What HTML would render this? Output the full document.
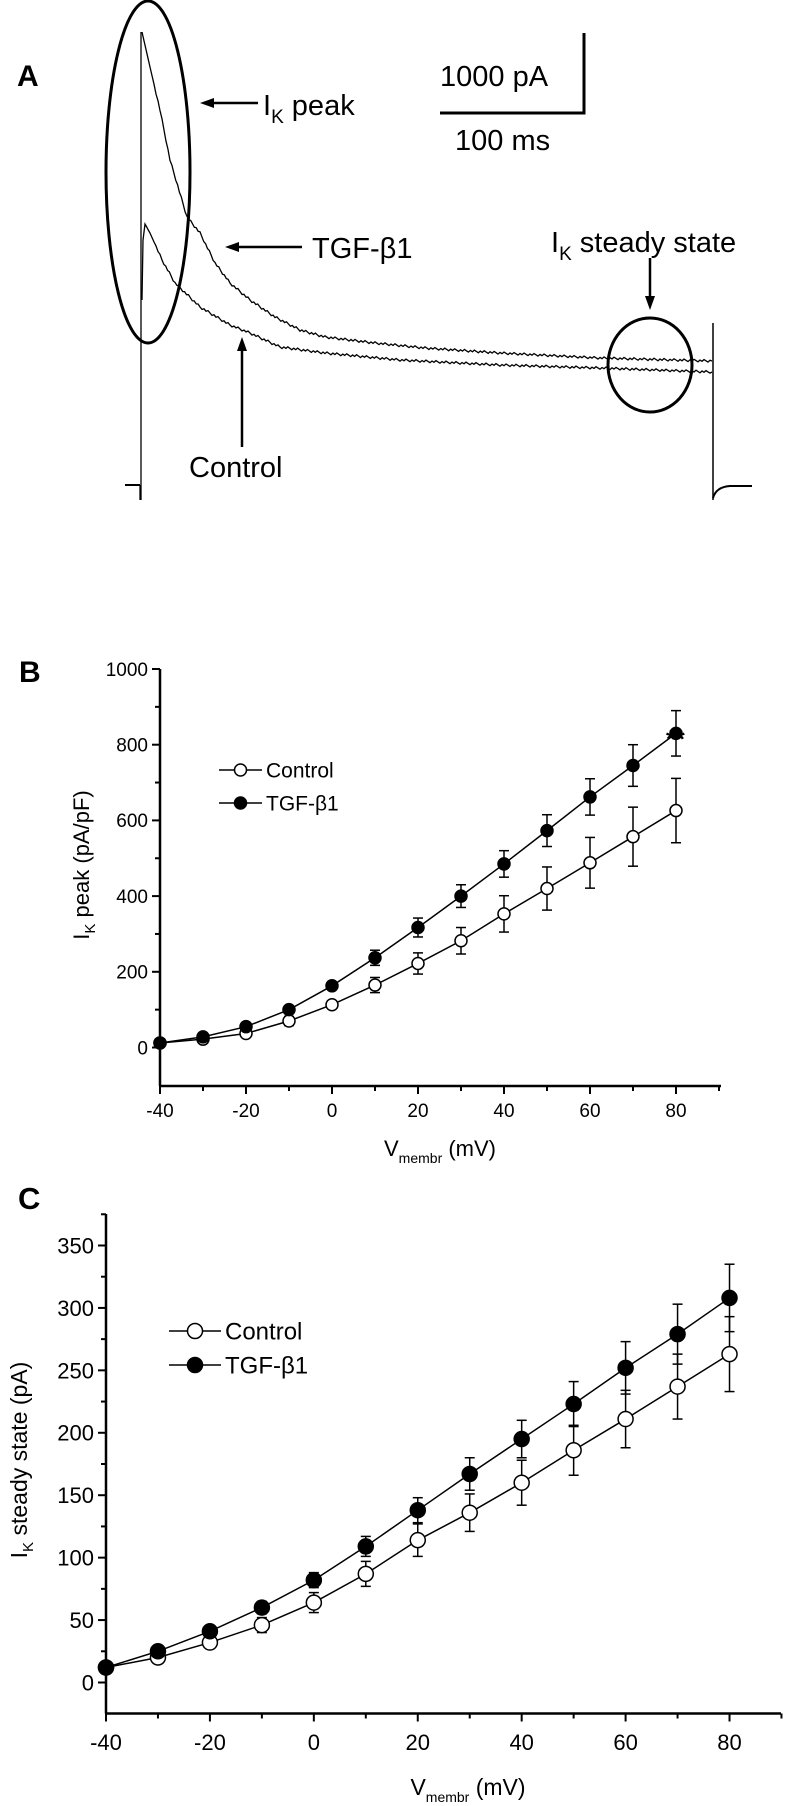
<!DOCTYPE html>
<html><head><meta charset="utf-8">
<style>
html,body{margin:0;padding:0;background:#fff;}
svg{display:block;font-family:"Liberation Sans",Arial,sans-serif;}
</style></head>
<body>
<svg id="fig" width="786" height="1806" viewBox="0 0 786 1806" xmlns="http://www.w3.org/2000/svg">
<!-- Panel A -->
<g id="panelA" fill="none" stroke="#000">
  <text x="17" y="86" font-size="30" font-weight="bold" fill="#000" stroke="none">A</text>
  <ellipse cx="148" cy="172" rx="42" ry="171" stroke-width="3"/>
  <ellipse cx="650" cy="365" rx="42" ry="47" stroke-width="3"/>
  <line x1="125" y1="485" x2="140" y2="485" stroke-width="2"/>
  <line x1="140" y1="485" x2="140" y2="500" stroke-width="1.3"/>
  <line x1="141" y1="32" x2="141" y2="500" stroke-width="1.3"/>
  <line x1="713" y1="323" x2="713" y2="500" stroke-width="1.5"/>
  <path d="M713,498 Q716,487 730,486 L752,486" stroke-width="2"/>
  <polyline id="traceTGF" stroke-width="1.3"/>
  <polyline id="traceCtl" stroke-width="1.3"/>
  <!-- scale bar -->
  <polyline points="440,113 584,113 584,33" stroke-width="3"/>
  <text x="440" y="86" font-size="29" fill="#000" stroke="none">1000 pA</text>
  <text x="455" y="150" font-size="29" fill="#000" stroke="none">100 ms</text>
  <!-- annotations -->
  <line x1="258" y1="103" x2="210" y2="103" stroke-width="2.5"/>
  <polygon points="200,103 214,98 214,108" fill="#000" stroke="none"/>
  <text x="263" y="115" font-size="29" fill="#000" stroke="none">I<tspan font-size="19" dy="8">K</tspan><tspan dy="-8"> peak</tspan></text>
  <line x1="302" y1="247" x2="235" y2="247" stroke-width="2.5"/>
  <polygon points="225,247 239,242 239,252" fill="#000" stroke="none"/>
  <text x="312" y="258" font-size="29" fill="#000" stroke="none">TGF-β1</text>
  <line x1="242" y1="447" x2="242" y2="348" stroke-width="2.5"/>
  <polygon points="242,337 237,351 247,351" fill="#000" stroke="none"/>
  <text x="189" y="477" font-size="29" fill="#000" stroke="none">Control</text>
  <line x1="650" y1="258" x2="650" y2="298" stroke-width="2.5"/>
  <polygon points="650,310 645,296 655,296" fill="#000" stroke="none"/>
  <text x="551" y="252" font-size="29" fill="#000" stroke="none">I<tspan font-size="19" dy="8">K</tspan><tspan dy="-8"> steady state</tspan></text>
</g>
<g id="panelB"></g>
<g id="panelC"></g>
</svg>
<script>
// ---- Panel A trace shape (pixel path of recorded traces)
const traceTGFpts = [[142,32],[150,67],[160,110],[170,160],[187,217],[200,233],[215,263],[230,283],[250,300],[275,317],[300,330],[325,337],[375,343],[425,348],[500,353],[600,358],[712,361]];
const traceCtlpts = [[142,300],[143,240],[145,224],[150,233],[162,260],[175,283],[200,307],[230,325],[250,333],[280,347],[325,353],[400,360],[500,365],[600,368],[712,372]];

// ---- Panel B data
const voltages = [-40,-30,-20,-10,0,10,20,30,40,50,60,70,80];
const peakControl = [12,22,37,70,113,165,222,282,353,420,488,557,626];
const peakControlErr = [6,8,10,12,10,20,28,35,48,57,67,78,85];
const peakTGF = [12,28,55,100,163,237,317,400,485,573,662,745,830];
const peakTGFErr = [5,6,8,10,10,20,25,30,35,42,48,55,60];
const peakYTicks = [0,200,400,600,800,1000];
const xTicks = [-40,-20,0,20,40,60,80];

// ---- Panel C data
const ssControl = [12,20,32,46,64,87,114,136,160,186,211,237,263];
const ssControlErr = [3,3,4,6,8,10,13,15,18,20,23,26,30];
const ssTGF = [12,25,41,60,82,109,138,167,195,223,252,279,308];
const ssTGFErr = [3,3,3,5,6,8,10,13,15,18,21,24,27];
const ssYTicks = [0,50,100,150,200,250,300,350];

const NS = "http://www.w3.org/2000/svg";
function mk(parent, tag, attrs){ const e=document.createElementNS(NS,tag); for(const k in attrs) e.setAttribute(k,attrs[k]); parent.appendChild(e); return e; }

function wiggle(pts, amp){
  const out=[]; let k=0;
  for(let i=0;i<pts.length-1;i++){
    const [x0,y0]=pts[i],[x1,y1]=pts[i+1];
    const n=Math.max(1,Math.round((x1-x0)/2));
    for(let j=0;j<n;j++){
      const t=j/n; const x=x0+(x1-x0)*t; let y=y0+(y1-y0)*t;
      if(x>155){ y += amp*(((k*7)%5)-2)/2; }
      k++; out.push(x.toFixed(1)+","+y.toFixed(1));
    }
  }
  const l=pts[pts.length-1]; out.push(l[0]+","+l[1]);
  return out.join(" ");
}
document.getElementById('traceTGF').setAttribute('points', wiggle(traceTGFpts,1.2));
document.getElementById('traceCtl').setAttribute('points', wiggle(traceCtlpts,1.2));

function drawPanel(g, o){
  const X=v=>o.x0+(v-o.xmin)*o.xs;
  const Y=v=>o.y0-(v-0)*o.ys;
  // axes
  let e=mk(g,'line',{x1:o.ax,y1:o.top,x2:o.ax,y2:o.bottom,stroke:'#000','stroke-width':2.5});
   
  e=mk(g,'line',{x1:o.ax,y1:o.bottom,x2:o.right,y2:o.bottom,stroke:'#000','stroke-width':2.5});
   
  // y ticks
  for(let v=o.yminTick; v<=o.ymaxTick; v+=o.yminor){
    const major = o.yTicks.indexOf(v)>=0;
    mk(g,'line',{x1:o.ax-(major?8:5),y1:Y(v),x2:o.ax,y2:Y(v),stroke:'#000','stroke-width':2});
  }
  o.yTicks.forEach(v=>{
    const t=mk(g,'text',{x:o.ax-12,y:Y(v)+o.fs*0.36,'font-size':o.fs,'text-anchor':'end'});
    t.textContent=v;
     
  });
  for(let v=-40; v<=90; v+=10){
    const major=xTicks.indexOf(v)>=0;
    mk(g,'line',{x1:X(v),y1:o.bottom,x2:X(v),y2:o.bottom+(major?8:5),stroke:'#000','stroke-width':2});
  }
  xTicks.forEach(v=>{
    const t=mk(g,'text',{x:X(v),y:o.xlabY,'font-size':o.fs,'text-anchor':'middle'});
    t.textContent=v;
     
  });
  // series
  const series=[[o.ctl,o.ctlErr,'#fff','control'],[o.tgf,o.tgfErr,'#000','tgf']];
  series.forEach(([vals,errs,fill,nm])=>{
    const pl=mk(g,'polyline',{points:voltages.map((v,i)=>X(v)+','+Y(vals[i])).join(' '),fill:'none',stroke:'#000','stroke-width':1.5});
     
  });
  series.forEach(([vals,errs,fill,nm])=>{
    voltages.forEach((v,i)=>{
      const x=X(v);
      mk(g,'line',{x1:x,y1:Y(vals[i]-errs[i]),x2:x,y2:Y(vals[i]+errs[i]),stroke:'#000','stroke-width':1.5});
      mk(g,'line',{x1:x-5,y1:Y(vals[i]+errs[i]),x2:x+5,y2:Y(vals[i]+errs[i]),stroke:'#000','stroke-width':1.5});
      mk(g,'line',{x1:x-5,y1:Y(vals[i]-errs[i]),x2:x+5,y2:Y(vals[i]-errs[i]),stroke:'#000','stroke-width':1.5});
      const c=mk(g,'circle',{cx:x,cy:Y(vals[i]),r:o.r,fill:fill,stroke:'#000','stroke-width':1.5});
       
    });
  });
  // legend
  [['Control','#fff',o.legY1],['TGF-β1','#000',o.legY2]].forEach(([lab,fill,y])=>{
    mk(g,'line',{x1:o.legX,y1:y,x2:o.legX+o.legW,y2:y,stroke:'#000','stroke-width':1.5});
    mk(g,'circle',{cx:o.legX+o.legW/2,cy:y,r:o.r,fill:fill,stroke:'#000','stroke-width':1.5});
    const t=mk(g,'text',{x:o.legX+o.legW+4,y:y+o.legFs*0.36,'font-size':o.legFs});
    t.textContent=lab;
     
  });
}

const gB=document.getElementById('panelB');
drawPanel(gB,{xmin:-40,x0:160,xs:4.3,y0:1047.5,ys:0.3785,ax:160,top:669,bottom:1086,right:721,
  yTicks:peakYTicks,yminTick:0,ymaxTick:1000,yminor:100,fs:19,xlabY:1117,
  ctl:peakControl,ctlErr:peakControlErr,tgf:peakTGF,tgfErr:peakTGFErr,r:6,
  legX:219,legW:43,legY1:770,legY2:803,legFs:21});
const gC=document.getElementById('panelC');
drawPanel(gC,{xmin:-40,x0:106,xs:5.196,y0:1682.5,ys:1.2486,ax:106,top:1214,bottom:1713.5,right:781,
  yTicks:ssYTicks,yminTick:0,ymaxTick:375,yminor:25,fs:22,xlabY:1750,
  ctl:ssControl,ctlErr:ssControlErr,tgf:ssTGF,tgfErr:ssTGFErr,r:7.5,
  legX:169,legW:52,legY1:1331,legY2:1365,legFs:24});

// static labels
let t;
t=mk(gB,'text',{x:19,y:682,'font-size':30,'font-weight':'bold'}); t.textContent='B';
 
t=mk(gB,'text',{x:666,y:747,'font-size':24,'font-weight':'bold'}); t.textContent='**';
 
t=mk(gB,'text',{x:0,y:0,'font-size':22,'text-anchor':'middle',transform:'translate(89,865) rotate(-90)'});
t.innerHTML='I<tspan font-size="15" dy="6">K</tspan><tspan dy="-6"> peak (pA/pF)</tspan>';
 
t=mk(gB,'text',{x:440,y:1156,'font-size':22,'text-anchor':'middle'});
t.innerHTML='V<tspan font-size="14" dy="7">membr</tspan><tspan dy="-7"> (mV)</tspan>';
 

t=mk(gC,'text',{x:18,y:1209,'font-size':31,'font-weight':'bold'}); t.textContent='C';
 
t=mk(gC,'text',{x:0,y:0,'font-size':23,'text-anchor':'middle',transform:'translate(27,1460) rotate(-90)'});
t.innerHTML='I<tspan font-size="15" dy="6">K</tspan><tspan dy="-6"> steady state (pA)</tspan>';
 
t=mk(gC,'text',{x:468,y:1795,'font-size':23,'text-anchor':'middle'});
t.innerHTML='V<tspan font-size="14" dy="7">membr</tspan><tspan dy="-7"> (mV)</tspan>';
 
</script>
</body></html>
